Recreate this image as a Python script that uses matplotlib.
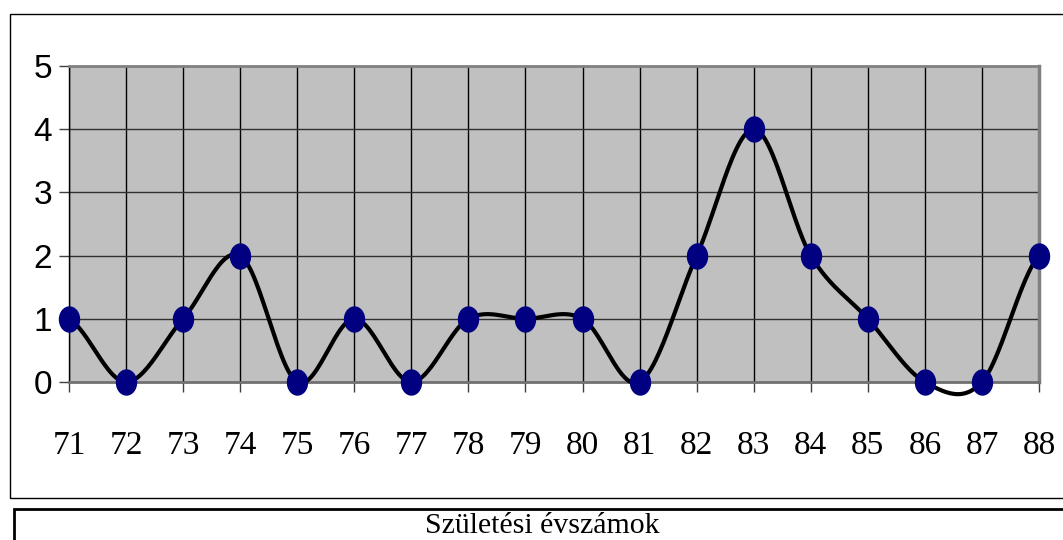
import matplotlib.pyplot as plt
import numpy as np
from matplotlib.path import Path
from matplotlib.patches import Rectangle

# Datos del gráfico
evek = ['71', '72', '73', '74', '75', '76', '77', '78', '79', '80',
        '81', '82', '83', '84', '85', '86', '87', '88']
darab = [1, 0, 1, 2, 0, 1, 0, 1, 1, 1, 0, 2, 4, 2, 1, 0, 0, 2]
y_ticks = [0, 1, 2, 3, 4, 5]
cim = 'Születési évszámok'


def suavizar(y, pasos=30):
    # Curva suavizada tipo Excel (Catmull-Rom / Hermite)
    y = np.asarray(y, dtype=float)
    n = len(y)
    m = np.zeros(n)
    for i in range(n):
        a = y[max(i - 1, 0)]
        b = y[min(i + 1, n - 1)]
        m[i] = (b - a) / 2.0
    xs, ys = [], []
    t = np.linspace(0, 1, pasos)
    for i in range(n - 1):
        h00 = 2 * t**3 - 3 * t**2 + 1
        h10 = t**3 - 2 * t**2 + t
        h01 = -2 * t**3 + 3 * t**2
        h11 = t**3 - t**2
        xs.extend(i + t)
        ys.extend(h00 * y[i] + h10 * m[i] + h01 * y[i + 1] + h11 * m[i + 1])
    return np.array(xs), np.array(ys)


fig = plt.figure(figsize=(10.63, 5.40), dpi=100)
ax = fig.add_axes([69 / 1063, 1 - 382 / 540, 970 / 1063, 316 / 540])

x = np.arange(len(evek))
ax.set_facecolor('#c0c0c0')
ax.set_xlim(0, len(evek) - 1)
ax.set_ylim(0, 5)

# Rejilla
for xi in x:
    ax.axvline(xi, color='black', linewidth=1, zorder=1)
for yi in y_ticks[1:-1]:
    ax.axhline(yi, color='#303030', linewidth=1, zorder=1)

# Línea suavizada y marcadores
xs, ys = suavizar(darab)
ax.plot(xs, ys, color='black', linewidth=3, solid_capstyle='round',
        solid_joinstyle='round', clip_on=False, zorder=3)
circulo = Path.unit_circle()
elipse = Path(circulo.vertices * [0.8, 1.0], circulo.codes)
ax.plot(x, darab, linestyle='none', marker=elipse, markersize=18,
        markerfacecolor='#000080', markeredgecolor='#000080',
        clip_on=False, zorder=4)

# Ejes
ax.spines['left'].set_color('black')
ax.spines['left'].set_linewidth(1)
ax.spines['bottom'].set_color('#707070')
ax.spines['bottom'].set_linewidth(2)
ax.spines['top'].set_color('#808080')
ax.spines['top'].set_linewidth(2)
ax.spines['right'].set_color('#808080')
ax.spines['right'].set_linewidth(2.5)

ax.set_xticks(x)
ax.set_xticklabels(evek, family='Liberation Serif', fontsize=24)
ax.tick_params(axis='x', length=7, width=1, color='#404040', pad=28)
ax.set_yticks(y_ticks)
ax.set_yticklabels([str(v) for v in y_ticks], family='Liberation Sans', fontsize=24)
ax.tick_params(axis='y', length=7, width=1, color='#404040', pad=5)

# Marcos exteriores
fig.patches.append(Rectangle((9.5 / 1063, 1 - 498 / 540), 1.1, 484 / 540,
                             transform=fig.transFigure, fill=False,
                             edgecolor='black', linewidth=1))
fig.patches.append(Rectangle((13.5 / 1063, -0.2), 1.1, 0.2 + 31 / 540,
                             transform=fig.transFigure, fill=False,
                             edgecolor='black', linewidth=2))
fig.text(542 / 1063, 1 - 526 / 540, cim, ha='center', va='center',
         family='Liberation Serif', fontsize=21.5)

plt.savefig('out.png', dpi=100)
